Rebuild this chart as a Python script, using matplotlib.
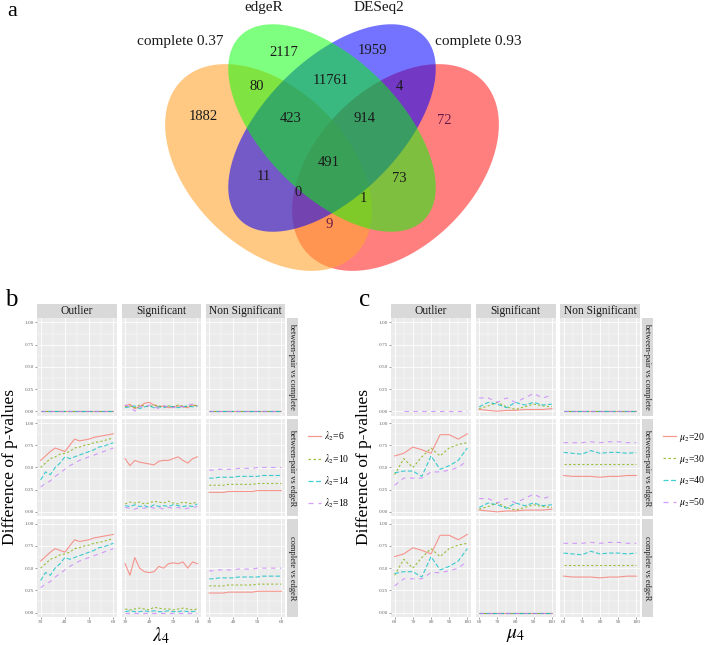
import numpy as np
import matplotlib.pyplot as plt
from matplotlib.patches import Polygon
from matplotlib.lines import Line2D

plt.rcParams['font.family'] = ['Liberation Serif', 'DejaVu Serif']
plt.rcParams['mathtext.fontset'] = 'stix'

W, H = 707, 645

# ---------------- panel a: Venn data ----------------
set_names = ['complete 0.37', 'edgeR', 'DESeq2', 'complete 0.93']
set_colors = ['#FFA533', '#00FF00', '#0000FF', '#FF0000']
region_counts = [2117, 1959, 80, 11761, 4, 1882, 423, 914, 72, 491, 11, 73, 0, 1, 9]
# label positions of the regions (pixels)
region_pos = [(284, 53), (372, 51), (257, 86), (331, 80), (399, 86), (203, 117),
              (291, 119), (365, 119), (444, 121), (329, 162), (264, 177),
              (399, 179), (298, 193), (363, 199), (329, 224)]

# ---------------- panel b data (x = lambda4) ----------------
b_lambda4 = [30, 32, 34, 36, 38, 40, 42, 44, 46, 48, 50, 52, 54, 56, 58, 60]
b_levels = ['6', '10', '14', '18']
b_zero = [0, 0, 0, 0, 0, 0, 0, 0, 0, 0, 0, 0, 0, 0, 0, 0]

b_sig_bpc = [
    [0.06, 0.08, 0.03, 0.05, 0.09, 0.10, 0.07, 0.05, 0.06, 0.04, 0.05, 0.06, 0.05, 0.04, 0.07, 0.06],
    [0.05, 0.06, 0.04, 0.07, 0.06, 0.05, 0.07, 0.06, 0.05, 0.06, 0.05, 0.07, 0.06, 0.05, 0.06, 0.07],
    [0.04, 0.05, 0.06, 0.03, 0.05, 0.06, 0.04, 0.05, 0.04, 0.06, 0.05, 0.04, 0.05, 0.06, 0.05, 0.06],
    [0.07, 0.05, 0.00, 0.06, 0.04, 0.07, 0.05, 0.03, 0.06, 0.05, 0.04, 0.06, 0.05, 0.07, 0.08, 0.06],
]
b_out_edger = [
    [0.58, 0.63, 0.68, 0.72, 0.70, 0.68, 0.75, 0.82, 0.80, 0.81, 0.82, 0.84, 0.85, 0.86, 0.87, 0.88],
    [0.50, 0.55, 0.60, 0.62, 0.65, 0.66, 0.68, 0.72, 0.73, 0.75, 0.76, 0.78, 0.79, 0.80, 0.82, 0.83],
    [0.36, 0.45, 0.42, 0.50, 0.55, 0.62, 0.60, 0.62, 0.64, 0.66, 0.68, 0.70, 0.73, 0.74, 0.76, 0.78],
    [0.28, 0.32, 0.35, 0.40, 0.44, 0.48, 0.52, 0.55, 0.58, 0.60, 0.62, 0.64, 0.66, 0.68, 0.70, 0.72],
]
b_sig_bpe = [
    [0.60, 0.52, 0.58, 0.56, 0.55, 0.54, 0.53, 0.57, 0.58, 0.58, 0.60, 0.62, 0.58, 0.55, 0.60, 0.62],
    [0.09, 0.11, 0.10, 0.11, 0.09, 0.10, 0.12, 0.11, 0.10, 0.12, 0.10, 0.09, 0.11, 0.10, 0.09, 0.12],
    [0.07, 0.06, 0.08, 0.06, 0.07, 0.05, 0.08, 0.06, 0.07, 0.06, 0.08, 0.07, 0.06, 0.07, 0.06, 0.09],
    [0.05, 0.04, 0.03, 0.05, 0.04, 0.06, 0.04, 0.05, 0.03, 0.05, 0.04, 0.05, 0.03, 0.04, 0.05, 0.06],
]
b_non_edger = [
    [0.22, 0.22, 0.22, 0.22, 0.23, 0.23, 0.23, 0.23, 0.23, 0.23, 0.24, 0.24, 0.24, 0.24, 0.24, 0.24],
    [0.30, 0.30, 0.30, 0.30, 0.31, 0.31, 0.31, 0.31, 0.31, 0.31, 0.32, 0.32, 0.32, 0.32, 0.32, 0.32],
    [0.38, 0.38, 0.39, 0.39, 0.39, 0.39, 0.40, 0.40, 0.40, 0.40, 0.40, 0.41, 0.41, 0.41, 0.41, 0.41],
    [0.47, 0.47, 0.48, 0.48, 0.48, 0.48, 0.49, 0.49, 0.49, 0.49, 0.50, 0.50, 0.50, 0.50, 0.50, 0.50],
]
b_sig_ce = [
    [0.55, 0.42, 0.62, 0.50, 0.46, 0.45, 0.46, 0.52, 0.50, 0.55, 0.56, 0.55, 0.57, 0.50, 0.57, 0.55],
    [0.04, 0.03, 0.04, 0.05, 0.04, 0.03, 0.06, 0.05, 0.04, 0.04, 0.03, 0.04, 0.05, 0.04, 0.03, 0.04],
    [0.01, 0.02, 0.01, 0.01, 0.02, 0.01, 0.02, 0.01, 0.01, 0.02, 0.01, 0.01, 0.02, 0.01, 0.01, 0.02],
    b_zero,
]

# ---------------- panel c data (x = mu4) ----------------
c_mu4 = [60, 65, 70, 75, 80, 85, 90, 95, 100]
c_levels = ['20', '30', '40', '50']
c_zero = [0, 0, 0, 0, 0, 0, 0, 0, 0]
c_nan = [np.nan] * 9

c_out_bpc = [c_nan, c_nan, c_nan, [np.nan, 0, 0, 0, 0, 0, 0, 0, 0]]
c_sig = [
    [0.02, 0.01, 0.00, 0.01, 0.01, 0.02, 0.02, 0.02, 0.03],
    [0.03, 0.06, 0.10, 0.05, 0.02, 0.05, 0.08, 0.06, 0.05],
    [0.05, 0.10, 0.08, 0.04, 0.10, 0.07, 0.10, 0.07, 0.08],
    [0.15, 0.15, 0.10, 0.15, 0.10, 0.15, 0.20, 0.15, 0.18],
]
c_out_edger = [
    [0.63, 0.66, 0.73, 0.70, 0.66, 0.87, 0.87, 0.82, 0.88],
    [0.42, 0.60, 0.50, 0.62, 0.72, 0.63, 0.72, 0.76, 0.78],
    [0.44, 0.46, 0.46, 0.40, 0.63, 0.48, 0.52, 0.58, 0.72],
    [0.30, 0.38, 0.38, 0.38, 0.45, 0.45, 0.47, 0.50, 0.58],
]
c_non_edger = [
    [0.41, 0.40, 0.40, 0.40, 0.39, 0.40, 0.40, 0.41, 0.41],
    [0.54, 0.54, 0.54, 0.54, 0.54, 0.54, 0.54, 0.54, 0.54],
    [0.67, 0.66, 0.65, 0.69, 0.66, 0.67, 0.67, 0.66, 0.67],
    [0.78, 0.78, 0.78, 0.79, 0.78, 0.79, 0.79, 0.78, 0.78],
]

col_titles = ['Outlier', 'Significant', 'Non Significant']
row_titles = ['between-pair vs complete', 'between-pair vs edgeR', 'complete vs edgeR']
line_colors = ['#F8766D', '#7CAE00', '#00BFC4', '#C77CFF']
line_styles = ['-', (0, (2, 2)), (0, (4, 2)), (0, (4, 4))]

fig = plt.figure(figsize=(W / 100, H / 100), dpi=100)


def px_axes(x0, y0, x1, y1, **kw):
    return fig.add_axes([x0 / W, 1 - y1 / H, (x1 - x0) / W, (y1 - y0) / H], **kw)


# ---------------- draw Venn ----------------
va = px_axes(0, 0, W, 290)
va.set_xlim(0, W)
va.set_ylim(290, 0)
va.axis('off')


def ellipse_px(cx, cy, a, b, ang):
    # pixel space, y pointing down
    t = np.linspace(0, 2 * np.pi, 300)
    r = np.deg2rad(ang)
    x = cx + a * np.cos(t) * np.cos(r) - b * np.sin(t) * np.sin(r)
    y = cy + a * np.cos(t) * np.sin(r) + b * np.sin(t) * np.cos(r)
    return np.column_stack([x, y])


# centre x, centre y, half axes, rotation
ell_params = {0: (268.5, 167.5, 123, 79, 45), 1: (332, 128, 130, 68, 45),
              2: (332, 128, 130, 68, -45), 3: (395.5, 167.5, 123, 79, -45)}
alphas = {0: 0.6, 1: 0.5, 2: 0.55, 3: 0.5}
for i in [3, 0, 2, 1]:
    cx, cy, ea, eb, ang = ell_params[i]
    va.add_patch(Polygon(ellipse_px(cx, cy, ea, eb, ang), closed=True,
                         facecolor=set_colors[i], alpha=alphas[i], edgecolor='none'))

for n, (x, y) in zip(region_counts, region_pos):
    col = '#6a1a4a' if n in (72, 9) else '#1a1a1a'
    va.text(x, y, str(n), ha='center', va='center', fontsize=10.5, color=col)

set_label_pos = [(180, 41), (264, 8), (379, 8), (478, 41)]
for name, (x, y) in zip(set_names, set_label_pos):
    va.text(x, y, name, ha='center', va='center', fontsize=11, color='#1a1a1a')

fig.text(7 / W, 1 - 12 / H, 'a', fontsize=16, ha='left', va='center')

# ---------------- facet grids ----------------
rows_y = [(318, 415.7), (418.7, 516.3), (519.3, 617)]


def draw_grid(cols_x, strip_x, xvals, panels, xticks, xlim, levels, sym, legend_x, label_x, letter_x):
    for r, (y0, y1) in enumerate(rows_y):
        for c, (x0, x1) in enumerate(cols_x):
            ax = px_axes(x0, y0, x1, y1)
            ax.set_facecolor('#EBEBEB')
            for s in ax.spines.values():
                s.set_visible(False)
            for k, ys in enumerate(panels[r][c]):
                ax.plot(xvals, ys, color=line_colors[k], linestyle=line_styles[k],
                        lw=0.8, alpha=0.75)
            ax.set_xlim(*xlim)
            ax.set_ylim(-0.05, 1.05)
            ax.set_xticks(xticks)
            ax.set_xticks([(a + b) / 2 for a, b in zip(xticks[:-1], xticks[1:])], minor=True)
            ax.set_yticks([0, 0.25, 0.5, 0.75, 1.0])
            ax.set_yticks([0.125, 0.375, 0.625, 0.875], minor=True)
            ax.grid(which='major', color='white', lw=0.6)
            ax.grid(which='minor', color='white', lw=0.3)
            ax.set_axisbelow(True)
            ax.tick_params(which='major', length=1.5, width=0.4, color='#555555',
                           labelsize=3.8, labelcolor='#666666', pad=1)
            ax.tick_params(which='minor', length=0)
            if c == 0:
                ax.set_yticklabels(['0.00', '0.25', '0.50', '0.75', '1.00'])
            else:
                ax.tick_params(axis='y', left=False, labelleft=False)
            if r < 2:
                ax.tick_params(axis='x', bottom=False, labelbottom=False)
            if r == 0:
                st = px_axes(x0, 304, x1, y0)
                st.set_facecolor('#D9D9D9')
                st.set_xticks([])
                st.set_yticks([])
                for s in st.spines.values():
                    s.set_visible(False)
                st.text(0.5, 0.5, col_titles[c], ha='center', va='center',
                        fontsize=8.3, color='#1a1a1a', transform=st.transAxes)
        rs = px_axes(strip_x[0], y0, strip_x[1], y1)
        rs.set_facecolor('#D9D9D9')
        rs.set_xticks([])
        rs.set_yticks([])
        for s in rs.spines.values():
            s.set_visible(False)
        rs.text(0.5, 0.5, row_titles[r], ha='center', va='center', rotation=270,
                fontsize=6, color='#1a1a1a', transform=rs.transAxes)

    handles = [Line2D([], [], color=line_colors[k], linestyle=line_styles[k], lw=0.9, alpha=0.75)
               for k in range(4)]
    labels = [r'$\%s_2$=%s' % (sym, v) for v in levels]
    fig.legend(handles, labels, loc='center left', bbox_to_anchor=(legend_x / W, 1 - 470 / H),
               frameon=False, fontsize=7, handlelength=1.3, handletextpad=0.4,
               labelspacing=0.9, borderaxespad=0)
    fig.text(label_x / W, 1 - 467 / H, 'Difference of p-values', rotation=90,
             ha='center', va='center', fontsize=12.5)
    xc = (cols_x[0][0] + cols_x[2][1]) / 2
    fig.text(xc / W, 1 - 636 / H, r'$\%s_4$' % sym, ha='center', va='center', fontsize=14)
    fig.text(letter_x / W, 1 - 300 / H, 'b' if sym == 'lambda' else 'c',
             ha='left', va='center', fontsize=18)


b_panels = [
    [[b_zero] * 4, b_sig_bpc, [b_zero] * 4],
    [b_out_edger, b_sig_bpe, b_non_edger],
    [b_out_edger, b_sig_ce, b_non_edger],
]
c_panels = [
    [c_out_bpc, c_sig, [c_zero] * 4],
    [c_out_edger, c_sig, c_non_edger],
    [c_out_edger, [c_zero] * 4, c_non_edger],
]

draw_grid([(37, 117), (121.5, 201), (205.5, 285)], (286.5, 298), b_lambda4, b_panels,
          [30, 40, 50, 60], (28.5, 61.5), b_levels, 'lambda', 304, 10, 5)
draw_grid([(391, 471), (475.5, 555.5), (560, 640)], (641.5, 653), c_mu4, c_panels,
          [60, 70, 80, 90, 100], (58, 102), c_levels, 'mu', 659, 364, 359)

plt.savefig('out.png', dpi=100)
